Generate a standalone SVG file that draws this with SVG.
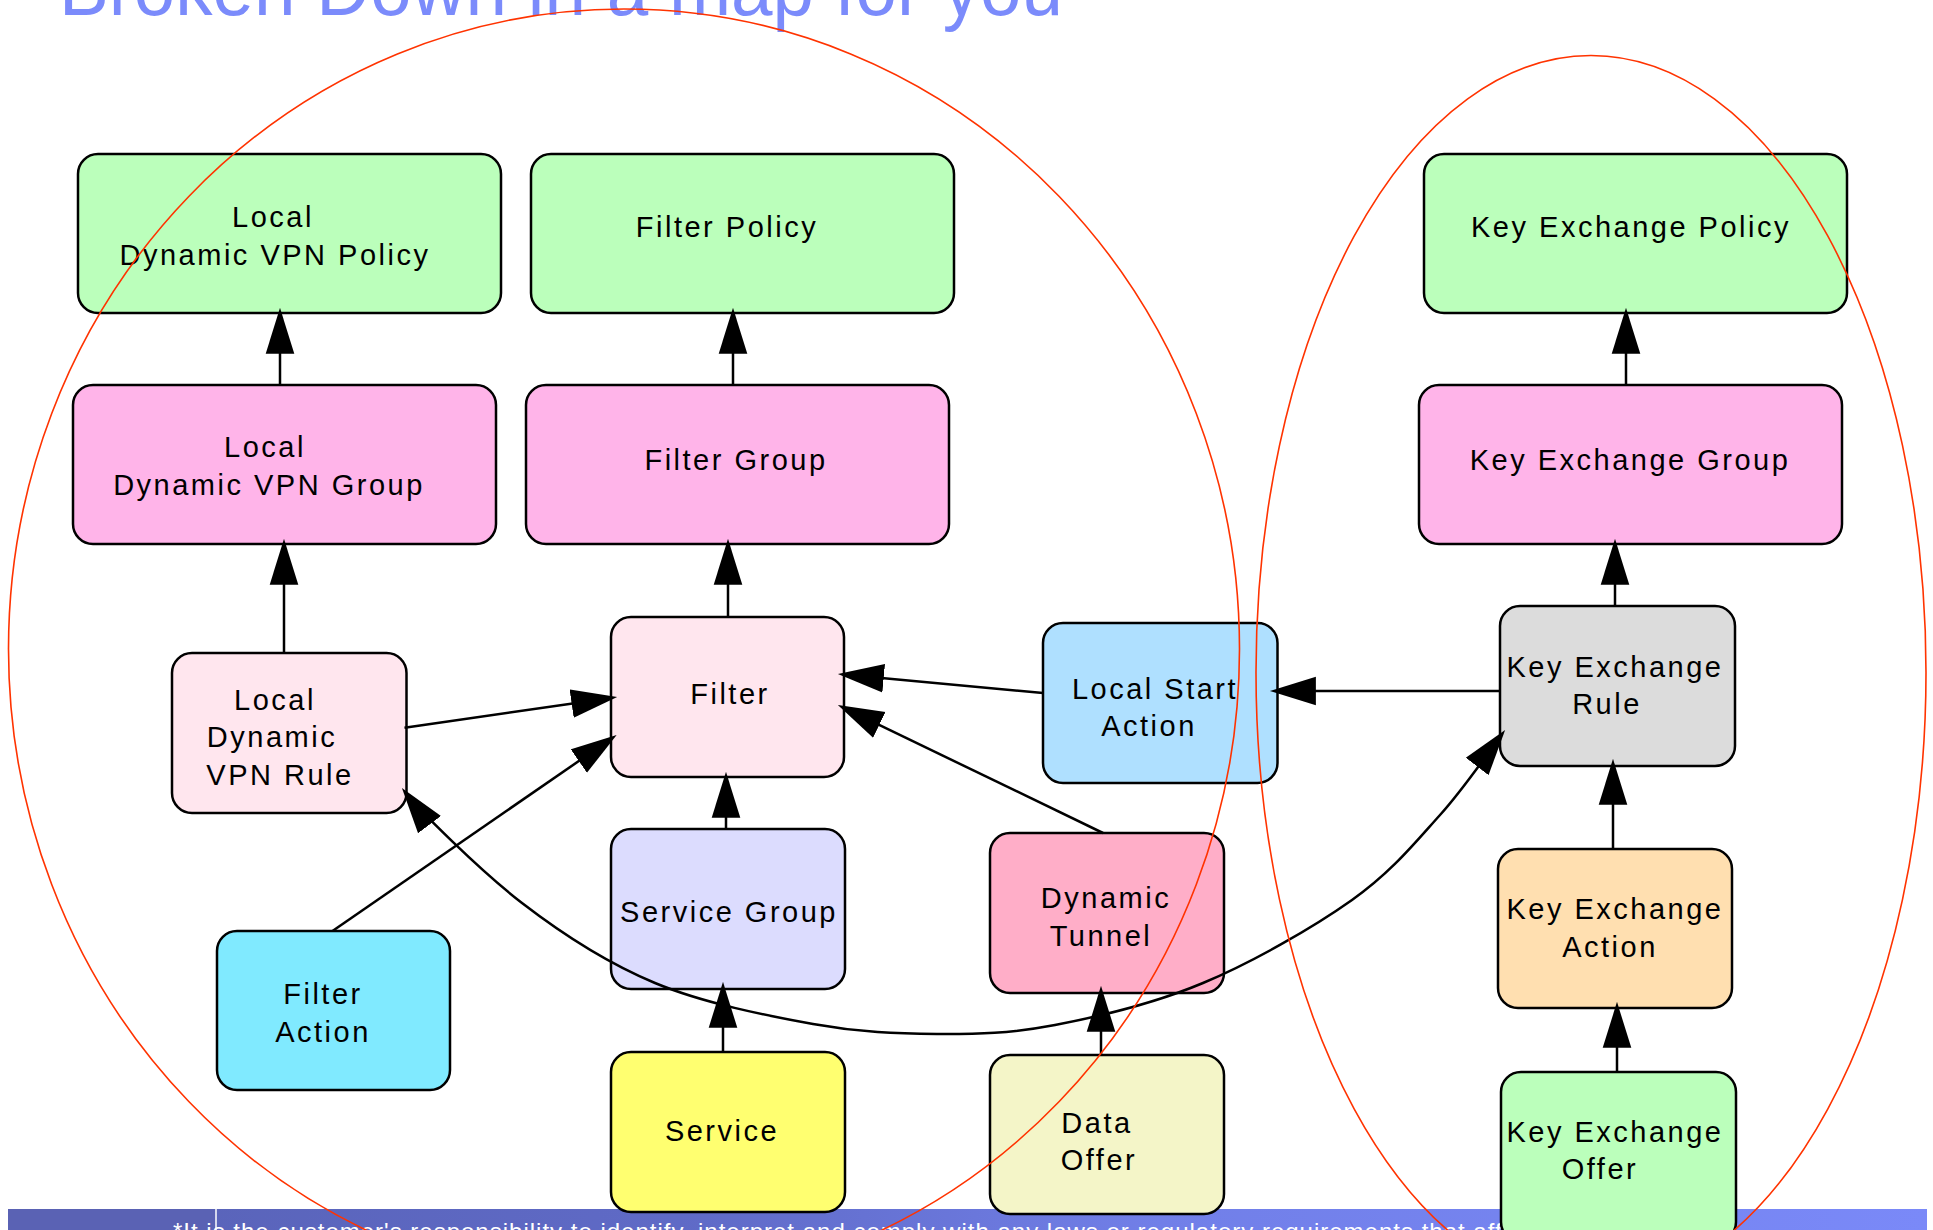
<svg xmlns="http://www.w3.org/2000/svg" width="1933" height="1230" viewBox="0 0 1933 1230">
<style>
.n rect{stroke:#000;stroke-width:2.5}
.n text{font-family:"Liberation Sans",Arial,sans-serif;font-size:29px;letter-spacing:2.5px;fill:#000;text-anchor:middle}
.c path{fill:none;stroke:#000;stroke-width:2.5}
.ring{fill:none;stroke:#ff3300;stroke-width:1.6}
.g1{fill:#bbffbb}.g2{fill:#ffb4e9}.g3{fill:#ffe6ee}
</style>
<defs>
<marker id="ah" markerUnits="userSpaceOnUse" markerWidth="46" markerHeight="30" viewBox="0 0 45 28" refX="39" refY="14" orient="auto-start-reverse">
<path d="M0,0 L45,14 L0,28 z" fill="#000"/>
</marker>
<linearGradient id="bar" x1="0" y1="0" x2="1" y2="0">
<stop offset="0" stop-color="#5862b6"/>
<stop offset="0.35" stop-color="#5f6ac6"/>
<stop offset="0.6" stop-color="#717fe8"/>
<stop offset="1" stop-color="#7a89f8"/>
</linearGradient>
</defs>
<rect width="1933" height="1230" fill="#fff"/>
<g id="banner">
<rect x="8" y="1209" width="1919" height="25" fill="url(#bar)"/>
<rect x="8" y="1209" width="208" height="25" fill="#5a62b4"/>
<line x1="216" y1="1209" x2="216" y2="1230" stroke="#fff" stroke-width="1.5"/>
<text x="173" y="1240" font-family="'Liberation Sans',Arial,sans-serif" font-size="24" letter-spacing="1" fill="#fff">*It is the customer's responsibility to identify, interpret and comply with any laws or regulatory requirements that affect</text>
</g>
<text id="title" x="59" y="15" font-family="'Liberation Sans',Arial,sans-serif" font-size="80" textLength="1004" lengthAdjust="spacingAndGlyphs" fill="#7b8bfb">Broken Down in a map for you</text>
<g id="n-ldvpn-policy" class="n"><rect class="g1" x="78" y="154" width="423" height="159" rx="20"/><text x="273" y="227">Local</text><text x="275" y="265">Dynamic VPN Policy</text></g>
<g id="n-filter-policy" class="n"><rect class="g1" x="531" y="154" width="423" height="159" rx="20"/><text x="727" y="237">Filter Policy</text></g>
<g id="n-ke-policy" class="n"><rect class="g1" x="1424" y="154" width="423" height="159" rx="20"/><text x="1631" y="237">Key Exchange Policy</text></g>
<g id="n-ldvpn-group" class="n"><rect class="g2" x="73" y="385" width="423" height="159" rx="20"/><text x="265" y="457">Local</text><text x="269" y="495">Dynamic VPN Group</text></g>
<g id="n-filter-group" class="n"><rect class="g2" x="526" y="385" width="423" height="159" rx="20"/><text x="736" y="470">Filter Group</text></g>
<g id="n-ke-group" class="n"><rect class="g2" x="1419" y="385" width="423" height="159" rx="20"/><text x="1630" y="470">Key Exchange Group</text></g>
<g id="n-ldvpn-rule" class="n"><rect class="g3" x="172" y="653" width="234.5" height="160" rx="20"/><text x="275" y="710">Local</text><text x="272" y="747">Dynamic</text><text x="280" y="785">VPN Rule</text></g>
<g id="n-filter" class="n"><rect class="g3" x="611" y="617" width="233" height="160" rx="20"/><text x="730" y="704">Filter</text></g>
<g id="n-local-start" class="n"><rect x="1043" y="623" width="234.5" height="160" rx="20" fill="#afe0ff"/><text x="1155" y="699">Local Start</text><text x="1149" y="736">Action</text></g>
<g id="n-ke-rule" class="n"><rect x="1500" y="606" width="235" height="160" rx="20" fill="#dcdcdc"/><text x="1615" y="677">Key Exchange</text><text x="1607" y="714">Rule</text></g>
<g id="n-filter-action" class="n"><rect x="217" y="931" width="233" height="159" rx="20" fill="#80eaff"/><text x="323" y="1004">Filter</text><text x="323" y="1042">Action</text></g>
<g id="n-service-group" class="n"><rect x="611" y="829" width="234" height="160" rx="20" fill="#dcdcfe"/><text x="729" y="922">Service Group</text></g>
<g id="n-dyn-tunnel" class="n"><rect x="990" y="833" width="234" height="160" rx="20" fill="#ffaec8"/><text x="1106" y="908">Dynamic</text><text x="1101" y="946">Tunnel</text></g>
<g id="n-ke-action" class="n"><rect x="1498" y="849" width="234" height="159" rx="20" fill="#ffdfb0"/><text x="1615" y="919">Key Exchange</text><text x="1610" y="957">Action</text></g>
<g id="n-service" class="n"><rect x="611" y="1052" width="234" height="160" rx="20" fill="#ffff70"/><text x="722" y="1141">Service</text></g>
<g id="n-data-offer" class="n"><rect x="990" y="1055" width="234" height="159" rx="20" fill="#f4f5c8"/><text x="1097" y="1133">Data</text><text x="1099" y="1170">Offer</text></g>
<g id="n-ke-offer" class="n"><rect class="g1" x="1501" y="1072" width="235" height="170" rx="20"/><text x="1615" y="1142">Key Exchange</text><text x="1600" y="1179">Offer</text></g>
<g id="connectors" class="c">
<path d="M280,385 L280,314" marker-end="url(#ah)"/>
<path d="M733,385 L733,314" marker-end="url(#ah)"/>
<path d="M1626,385 L1626,314" marker-end="url(#ah)"/>
<path d="M284,653 L284,545" marker-end="url(#ah)"/>
<path d="M728,617 L728,545" marker-end="url(#ah)"/>
<path d="M1615,606 L1615,545" marker-end="url(#ah)"/>
<path d="M404.5,727.7 L611.1,697.9" marker-end="url(#ah)"/>
<path d="M332.5,931 L611.6,738.4" marker-end="url(#ah)"/>
<path d="M726,829 L726,778" marker-end="url(#ah)"/>
<path d="M1043,693 L844,674.6" marker-end="url(#ah)"/>
<path d="M1103,833 L843.4,707.6" marker-end="url(#ah)"/>
<path d="M1500,691 L1276,691" marker-end="url(#ah)"/>
<path d="M723,1052 L723,988" marker-end="url(#ah)"/>
<path d="M1101,1055 L1101,992" marker-end="url(#ah)"/>
<path d="M1613,849 L1613,765" marker-end="url(#ah)"/>
<path d="M1617,1072 L1617,1008" marker-end="url(#ah)"/>
<path d="M405.6,792.8 C417,808 479.8,870.5 522,903 C564.2,935.5 606.5,962.8 655,983 C703.5,1003.2 766,1015.5 813,1024 C860,1032.5 896.7,1033.8 937,1034 C977.3,1034.2 1010.7,1033.5 1055,1025 C1099.3,1016.5 1153.5,1003.8 1203,983 C1252.5,962.2 1312.5,928 1352,900 C1391.5,872 1414.5,843.3 1440,815 C1465.5,786.7 1494.2,744.2 1501.4,734.8" marker-start="url(#ah)" marker-end="url(#ah)"/>
</g>
<g id="groupings">
<ellipse class="ring" cx="624" cy="649" rx="615.5" ry="640"/>
<ellipse class="ring" cx="1591" cy="672.5" rx="335" ry="617"/>
</g>
</svg>
